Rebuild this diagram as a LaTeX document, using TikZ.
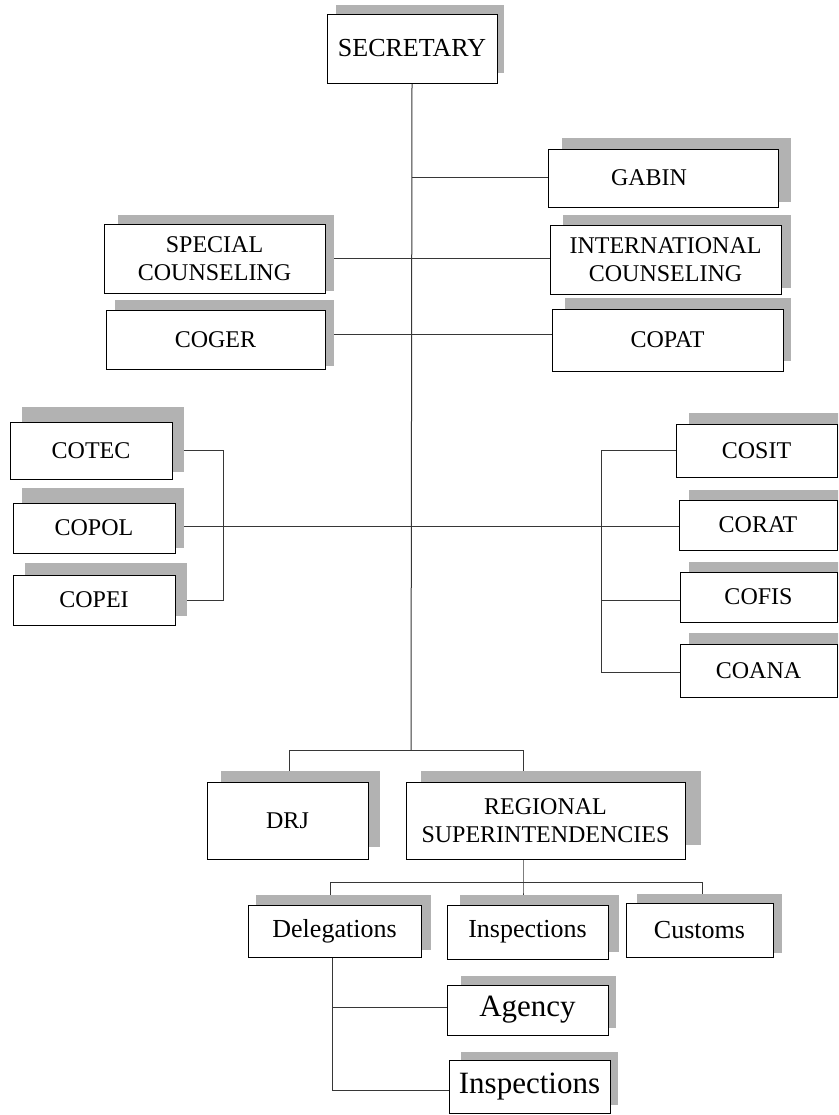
\documentclass[tikz,border=0pt]{standalone}
\usepackage{fontspec}
\setmainfont{Liberation Serif}
\definecolor{shadowgray}{RGB}{178,178,178}
\definecolor{linegray}{RGB}{55,55,55}
\pgfdeclarelayer{background}
\pgfsetlayers{background,main}
\tikzset{
  orgbox/.style={draw=black, fill=white, line width=0.8pt, inner sep=0pt,
    align=center, font=\fontsize{24}{28}\selectfont},
  shade/.style={fill=shadowgray},
  link/.style={draw=linegray, line width=1pt},
}
% box from its corners (x1,y1) to (x2,y2), with its label
\newcommand\orgnode[6]{%
  \node[orgbox, minimum width={#4-#2}, minimum height={#5-#3}]
    (#1) at ({(#2+#4)/2},{(#3+#5)/2}) {#6};}
% grey drop shadow behind a box
\newcommand\dropshade[4]{\fill[shade] (#1,#2) rectangle (#3,#4);}
\begin{document}
\begin{tikzpicture}[x=1pt,y=-1pt]
\useasboundingbox (0,0) rectangle (838,1115);
\clip (0,0) rectangle (838,1115);

% shadows
\dropshade{336}{5}{504}{73}
\dropshade{562}{138}{791}{202}
\dropshade{118}{215}{334}{291}
\dropshade{563}{215}{791}{288}
\dropshade{115}{300}{334}{366}
\dropshade{565}{298}{791}{361}
\dropshade{22}{407}{184}{472}
\dropshade{22}{488}{184}{548}
\dropshade{25}{563}{187}{616}
\dropshade{689}{413}{850}{470}
\dropshade{689}{490}{850}{545}
\dropshade{689}{562}{850}{617}
\dropshade{689}{633}{850}{690}
\dropshade{221}{771}{380}{847}
\dropshade{421}{771}{701}{845}
\dropshade{256}{895}{431}{950}
\dropshade{460}{895}{619}{952}
\dropshade{637}{894}{782}{953}
\dropshade{461}{976}{616}{1028}
\dropshade{461}{1052}{618}{1105}

% boxes
\orgnode{sec}{327}{14}{497}{83}{\fontsize{26}{30}\selectfont SECRETARY}
\orgnode{gabin}{548}{149}{778}{207}{GABIN\hspace*{28pt}}
\orgnode{spec}{104}{224}{325}{293}{SPECIAL\\COUNSELING}
\orgnode{intl}{550}{225}{781}{294}{INTERNATIONAL\\COUNSELING}
\orgnode{coger}{106}{310}{325}{369}{COGER}
\orgnode{copat}{552}{309}{783}{371}{COPAT}
\orgnode{cotec}{10}{422}{172}{479}{COTEC}
\orgnode{copol}{13}{503}{175}{553}{COPOL}
\orgnode{copei}{13}{575}{175}{625}{COPEI}
\orgnode{cosit}{676}{424}{837}{477}{COSIT}
\orgnode{corat}{679}{500}{837}{550}{CORAT}
\orgnode{cofis}{680}{572}{837}{622}{COFIS}
\orgnode{coana}{680}{644}{837}{697}{COANA}
\orgnode{drj}{207}{782}{368}{859}{DRJ}
\orgnode{reg}{406}{782}{685}{859}{REGIONAL\\SUPERINTENDENCIES}
\orgnode{deleg}{248}{905}{421}{957}{\fontsize{26}{30}\selectfont Delegations}
\orgnode{insp}{447}{905}{608}{959}{\fontsize{26}{30}\selectfont Inspections}
\orgnode{cust}{626}{903}{773}{957}{\fontsize{26}{30}\selectfont Customs}
\orgnode{agency}{447}{985}{608}{1035}{\fontsize{31}{36}\selectfont Agency}
\orgnode{insp2}{449}{1060}{610}{1113}{\fontsize{31}{36}\selectfont Inspections}

% junction points of the connectors
\coordinate (hub) at (411,750);
\coordinate (bl) at (289,750);
\coordinate (br) at (523,750);
\coordinate (rs) at (523,882);
\coordinate (dl) at (330,882);
\coordinate (dr) at (702,882);
\coordinate (dv) at (332,0);

\begin{pgfonlayer}{background}
  % trunk and side branches
  \draw[link] (sec.south) -- (hub);
  \draw[link] (sec.south |- gabin.west) -- (gabin.west);
  \draw[link] (spec.east) -- (spec.east -| intl.west);
  \draw[link] ([yshift=5pt]coger.east) -- ([yshift=5pt]coger.east -| copat.west);
  % left group
  \draw[link] (cotec.east) -- ++(51,0) coordinate (lbt)
    -- (lbt |- copei.east) -- (copei.east);
  \draw[link] ([yshift=2pt]copol.east) -- ([yshift=2pt]copol.east -| corat.west);
  % right group
  \draw[link] (cosit.west) -- ++(-74,0) coordinate (rbt)
    -- ([yshift=-2pt]rbt |- coana.west) -- ([yshift=-2pt]coana.west);
  \draw[link] ([yshift=-3pt]rbt |- cofis.west) -- ([yshift=-3pt]cofis.west);
  % bottom branches
  \draw[link] (bl |- drj.north) -- (bl) -- (br) -- (br |- reg.north);
  \draw[link] (rs |- reg.south) -- (rs) -- (rs |- insp.north);
  \draw[link] (dl |- deleg.north) -- (dl) -- (dr) -- (dr |- cust.north);
  % delegations subtree
  \draw[link] (dv |- deleg.south) -- ([yshift=-3.5pt]dv |- insp2.west)
    -- ([yshift=-3.5pt]insp2.west);
  \draw[link] ([yshift=3pt]dv |- agency.west) -- ([yshift=3pt]agency.west);
\end{pgfonlayer}
\end{tikzpicture}
\end{document}
